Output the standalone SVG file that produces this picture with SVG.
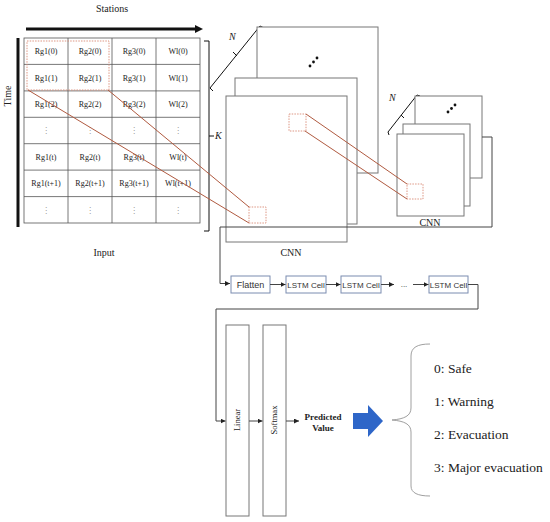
<svg xmlns="http://www.w3.org/2000/svg" width="550" height="522" viewBox="0 0 550 522">
<defs>
<marker id="ah" viewBox="0 0 6 6" refX="6" refY="3" markerWidth="5" markerHeight="5" orient="auto" markerUnits="userSpaceOnUse"><path d="M0,0 L6,3 L0,6 z" fill="#222"/></marker>
</defs>
<style>
.t{font-family:"Liberation Serif","Times New Roman",serif;fill:#222}
.g{font-size:8px;text-anchor:middle}
.lbl{font-size:10px;text-anchor:middle}
.s{font-family:"Liberation Sans",Arial,sans-serif;fill:#333;text-anchor:middle}
.grid{fill:#fff;stroke:#555;stroke-width:0.8}
.gl{stroke:#555;stroke-width:0.8}
.fr{fill:#fff;stroke:#777;stroke-width:1}
.rd{fill:none;stroke:#d98b76;stroke-width:0.9;stroke-dasharray:1.5,1.2}
.rl{stroke:#b05a40;stroke-width:1;fill:none}
.bx{fill:#fff;stroke:#7b8cb0;stroke-width:1}
.cn{fill:none;stroke:#444;stroke-width:1}
.blk{stroke:#111;fill:none}
.dots{fill:#999;font-family:"DejaVu Sans",sans-serif;font-size:8px;text-anchor:middle}
.cls{font-family:"Liberation Serif","Times New Roman",serif;fill:#222;font-size:13.5px}
</style>

<g id="stations-axis">
<text class="t lbl" x="112" y="12">Stations</text>
<line class="blk" x1="26" y1="29" x2="197" y2="29" stroke-width="3"/>
<polygon points="195,25 203,29 195,33" fill="#111"/>
</g>

<g id="time-axis">
<line class="blk" x1="18" y1="38" x2="18" y2="227" stroke-width="3"/>
<text class="t lbl" transform="translate(11,96) rotate(-90)">Time</text>
</g>

<g id="input-grid">
<rect class="grid" x="24" y="38" width="176" height="185"/>
<path class="gl" d="M68,38V223M112,38V223M156,38V223M24,64.4H200M24,90.9H200M24,117.3H200M24,143.7H200M24,170.1H200M24,196.6H200"/>
<g class="t g">
<text x="46" y="54">Rg1(0)</text><text x="90" y="54">Rg2(0)</text><text x="134" y="54">Rg3(0)</text><text x="178" y="54">Wl(0)</text>
<text x="46" y="80.5">Rg1(1)</text><text x="90" y="80.5">Rg2(1)</text><text x="134" y="80.5">Rg3(1)</text><text x="178" y="80.5">Wl(1)</text>
<text x="46" y="107">Rg1(2)</text><text x="90" y="107">Rg2(2)</text><text x="134" y="107">Rg3(2)</text><text x="178" y="107">Wl(2)</text>
<text x="46" y="160">Rg1(t)</text><text x="90" y="160">Rg2(t)</text><text x="134" y="160">Rg3(t)</text><text x="178" y="160">Wl(t)</text>
<text x="46" y="186.3">Rg1(t+1)</text><text x="90" y="186.3">Rg2(t+1)</text><text x="134" y="186.3">Rg3(t+1)</text><text x="178" y="186.3">Wl(t+1)</text>
</g>
<g class="dots">
<text x="46" y="133">⋮</text><text x="90" y="133">⋮</text><text x="134" y="133">⋮</text><text x="178" y="133">⋮</text>
<text x="46" y="212.5">⋮</text><text x="90" y="212.5">⋮</text><text x="134" y="212.5">⋮</text><text x="178" y="212.5">⋮</text>
</g>
<rect class="rd" x="27" y="41" width="82" height="49"/>
<text class="t lbl" x="104" y="256">Input</text>
<path class="blk" d="M204,41H209V231H204M209,136H214" stroke-width="1"/>
<text class="t" x="215" y="139" font-size="10" font-style="italic">K</text>
</g>

<g id="cnn1">
<path class="blk" d="M210,88L260,26M210,88l3,3M260,26l4,2M233,52l4,4" stroke-width="1"/>
<text class="t" x="229" y="40" font-size="10" font-style="italic">N</text>
<rect class="fr" x="257" y="27" width="121" height="146"/>
<circle cx="310" cy="66" r="1.4" fill="#111"/><circle cx="313.5" cy="62" r="1.4" fill="#111"/><circle cx="317" cy="58" r="1.4" fill="#111"/>
<rect class="fr" x="235" y="78" width="122" height="146"/>
<rect class="fr" x="226" y="96" width="121" height="146"/>
<rect class="rd" x="249" y="207" width="17" height="16"/>
<rect class="rd" x="289" y="114" width="17" height="17"/>
<text class="t lbl" x="291" y="256">CNN</text>
</g>

<g id="cnn2">
<path class="blk" d="M388,132L417,95M388,132l1,3M417,95l3,1M401,115l3,3" stroke-width="1"/>
<text class="t" x="389" y="101" font-size="10" font-style="italic">N</text>
<rect class="fr" x="415" y="96" width="67" height="82"/>
<circle cx="448" cy="112" r="1.4" fill="#111"/><circle cx="451.5" cy="108.5" r="1.4" fill="#111"/><circle cx="455" cy="105" r="1.4" fill="#111"/>
<rect class="fr" x="403" y="124" width="67" height="82"/>
<rect class="fr" x="397" y="134" width="67" height="82"/>
<rect class="rd" x="407" y="184" width="16" height="15"/>
<text class="t lbl" x="430" y="226">CNN</text>
</g>

<g id="flatten">
<rect class="bx" x="231" y="276" width="39" height="17"/>
<text class="s" x="250.5" y="287.8" font-size="9">Flatten</text>
</g>
<g id="lstm1">
<rect class="bx" x="286" y="276" width="40" height="17"/>
<text class="s" x="306" y="287.5" font-size="8">LSTM Cell</text>
</g>
<g id="lstm2">
<rect class="bx" x="341" y="276" width="40" height="17"/>
<text class="s" x="361" y="287.5" font-size="8">LSTM Cell</text>
</g>
<text class="s" x="404" y="287" font-size="8">...</text>
<g id="lstm3">
<rect class="bx" x="429" y="276" width="39" height="17"/>
<text class="s" x="448.5" y="287.5" font-size="8">LSTM Cell</text>
</g>

<g id="linear">
<rect class="fr" x="226" y="325" width="23" height="191"/>
<text class="t" font-size="8.5" text-anchor="middle" transform="translate(240,420) rotate(-90)">Linear</text>
</g>
<g id="softmax">
<rect class="fr" x="263" y="325" width="23" height="191"/>
<text class="t" font-size="8.5" text-anchor="middle" transform="translate(277,420) rotate(-90)">Softmax</text>
</g>
<g id="predicted">
<text class="t" font-size="9" font-weight="bold" text-anchor="middle" x="323" y="420">Predicted</text>
<text class="t" font-size="9" font-weight="bold" text-anchor="middle" x="323" y="431">Value</text>
</g>
<g id="blue-arrow">
<polygon points="353,413 368,413 368,405 383,421 368,437 368,429 353,429" fill="#2e66c8"/>
</g>
<g id="classes">
<path d="M430,344C418,344 411,347 411,356V408C411,416 404,419 392,420C404,421 411,424 411,432V486C411,493 418,496 430,496" fill="none" stroke="#a0a0a0" stroke-width="1"/>
<text class="cls" x="434" y="373">0: Safe</text>
<text class="cls" x="434" y="406">1: Warning</text>
<text class="cls" x="434" y="439">2: Evacuation</text>
<text class="cls" x="434" y="472">3: Major evacuation</text>
</g>

<g id="connectors">
<line class="rl" x1="28" y1="90" x2="249" y2="223"/>
<line class="rl" x1="108" y1="90" x2="249" y2="207"/>
<line class="rl" x1="306" y1="114" x2="407" y2="184"/>
<line class="rl" x1="305" y1="131" x2="407" y2="199"/>
<path class="cn" d="M482,137H492V227H220V283.5H230" marker-end="url(#ah)"/>
<path class="cn" d="M270,284.5H285.5" marker-end="url(#ah)"/>
<path class="cn" d="M326,284.5H340.5" marker-end="url(#ah)"/>
<path class="cn" d="M381,284.5H394" marker-end="url(#ah)"/>
<path class="cn" d="M413,284.5H428.5" marker-end="url(#ah)"/>
<path class="cn" d="M468,284.5H478V309H216V421H225.5" marker-end="url(#ah)"/>
<path class="cn" d="M249,421H262.5" marker-end="url(#ah)"/>
<path class="cn" d="M286,421H299" marker-end="url(#ah)"/>
</g>
</svg>
